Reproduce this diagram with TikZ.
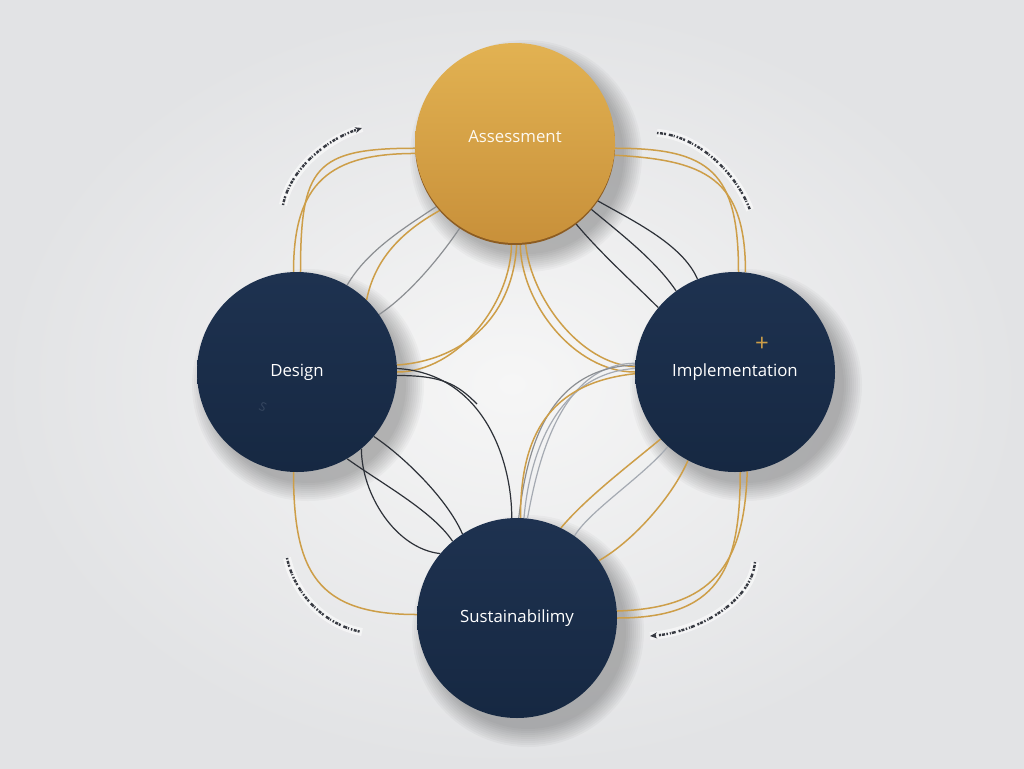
\documentclass[tikz,border=0pt]{standalone}
\usepackage{fontspec}
\setmainfont{Open Sans}
\usetikzlibrary{arrows.meta}
\pgfdeclarelayer{bglayer}
\pgfdeclarelayer{shadowlayer}
\pgfdeclarelayer{wirelayer}
\pgfsetlayers{bglayer,shadowlayer,wirelayer,main}
\definecolor{navytop}{RGB}{30,50,80}
\definecolor{navybot}{RGB}{22,40,66}
\definecolor{goldtop}{RGB}{226,178,82}
\definecolor{goldbot}{RGB}{200,144,58}
\definecolor{goldrim}{RGB}{140,92,34}
\definecolor{wiregold}{RGB}{205,158,72}
\definecolor{wireink}{RGB}{45,49,56}
\definecolor{wiresilver}{RGB}{165,170,178}
\definecolor{bginner}{RGB}{246,246,246}
\definecolor{bgouter}{RGB}{226,227,229}
\definecolor{scriptink}{RGB}{55,58,66}
\tikzset{
  stagecircle/.style={circle, minimum size=200pt, inner sep=0pt, font=\fontsize{16.8}{20}\selectfont},
  goldstage/.style={stagecircle, top color=goldtop, bottom color=goldbot, text=white!92!goldtop},
  navystage/.style={stagecircle, top color=navytop, bottom color=navybot, text=white},
  goldwire/.style={draw=wiregold, line width=1.5pt},
  inkwire/.style={draw=wireink, line width=1.2pt},
  greywire/.style={draw=wireink!55!white, line width=1.2pt},
  silverwire/.style={draw=wiresilver, line width=1.2pt},
  scriptarc/.style={draw=scriptink, line width=2.4pt, dash pattern=on 1.5pt off 1.5pt on 3pt off 1pt on 2pt off 3pt on 4pt off 1pt on 1pt off 2pt},
  halo/.style={draw=white, line width=8pt, opacity=0.55},
  tipstyle/.style={-{Stealth[length=7pt,width=6pt]}},
}
\begin{document}
\begin{tikzpicture}[x=1pt,y=-1pt]
\useasboundingbox (0,0) rectangle (1024,768);
\begin{pgfonlayer}{bglayer}
\shade[inner color=bginner, outer color=bgouter] (0,0) rectangle (1024,768);
\end{pgfonlayer}

% rim under the gold circle
\fill[goldrim] (515,145) circle (100);

\node[goldstage] (A) at (515,143) {\raisebox{14pt}{Assessment}};
\node[navystage] (D) at (297,372) {Design};
\node[navystage] (I) at (735,372) {Implementation};
\node[navystage] (S) at (517,618) {Sustainabilimy};

\node[text=wiregold, font=\fontsize{24}{24}\selectfont] (plus) at (762,344) {+};
\node[text=navytop!80!white, opacity=0.6, rotate=-25, font=\fontsize{12}{12}\selectfont] (faint) at (263,407) {S};

% shadows
\begin{pgfonlayer}{shadowlayer}
\foreach \n in {A,D,I,S}{
  \foreach \r in {98,100,...,116}{
    \fill[black, opacity=0.028] ([shift={(11,13)}]\n.center) circle (\r);
  }
}
\end{pgfonlayer}

\begin{pgfonlayer}{wirelayer}
% Assessment -> Design
\draw[greywire] (A.219) .. controls +(-30,20) and +(20,-35) .. (D.60);
\draw[goldwire] (A.222) .. controls +(-40,22) and +(8,-40) .. (D.46);
\draw[greywire] (A.237) .. controls +(-20,30) and +(30,-20) .. (D.35);
\draw[goldwire] (A.268) .. controls +(0,60) and +(60,0) .. (D.0);
\draw[goldwire] (A.271) .. controls +(-3,70) and +(70,-5) .. (D.4);
% Assessment -> Implementation
\draw[goldwire] (A.273) .. controls +(0,60) and +(-60,0) .. (I.180);
\draw[goldwire] (A.276) .. controls +(5,55) and +(-55,-3) .. (I.177);
\draw[inkwire] (A.307) .. controls +(25,30) and +(-25,-25) .. (I.140);
\draw[inkwire] (A.319) .. controls +(30,25) and +(-20,-30) .. (I.126);
\draw[inkwire] (A.325) .. controls +(35,20) and +(-15,-35) .. (I.112);
% outer loops
\draw[goldwire] (A.183) .. controls +(-100,0) and +(0,-105) .. (D.88);
\draw[goldwire] (A.186) .. controls +(-85,0) and +(0,-90) .. (D.92);
\draw[goldwire] (A.357) .. controls +(95,0) and +(0,-100) .. (I.88);
\draw[goldwire] (A.353) .. controls +(90,5) and +(0,-95) .. (I.84);
\draw[goldwire] (D.268) .. controls +(0,100) and +(-100,0) .. (S.178);
\draw[goldwire] (I.273) .. controls +(0,100) and +(100,0) .. (S.0);
\draw[goldwire] (I.277) .. controls +(-3,95) and +(95,-3) .. (S.4);
% Design -> Sustainability
\draw[inkwire] (D.320) .. controls +(30,20) and +(-15,-35) .. (S.123);
\draw[inkwire] (D.300) .. controls +(35,25) and +(-20,-30) .. (S.130);
\draw[inkwire] (D.310) .. controls +(0,45) and +(-45,-5) .. (S.140);
\coordinate (dfree) at (477,404);
\draw[inkwire] (D.358) .. controls +(45,0) and +(-20,-20) .. (dfree);
\draw[inkwire] (D.2) .. controls +(85,5) and +(0,-60) .. (S.93);
% Implementation -> Sustainability
\draw[silverwire] (I.178) .. controls +(-80,5) and +(5,-60) .. (S.86);
\draw[silverwire] (I.175) .. controls +(-75,0) and +(10,-55) .. (S.84);
\draw[greywire] (I.176) .. controls +(-90,3) and +(8,-65) .. (S.89);
\draw[goldwire] (I.181) .. controls +(-95,10) and +(0,-70) .. (S.88);
\draw[goldwire] (I.222) .. controls +(-30,25) and +(25,-30) .. (S.64);
\draw[goldwire] (I.242) .. controls +(-15,35) and +(35,-20) .. (S.35);
\draw[silverwire] (I.228) .. controls +(-25,30) and +(15,-25) .. (S.55);
\end{pgfonlayer}

% script-like arcs
\coordinate (tla) at (283,205); \coordinate (tlb) at (362,128);
\coordinate (tra) at (657,133); \coordinate (trb) at (750,210);
\coordinate (bla) at (287,558); \coordinate (blb) at (362,632);
\coordinate (bra) at (755,562); \coordinate (brb) at (650,636);
\draw[halo] (tla) .. controls (290,170) and (325,140) .. (tlb);
\draw[halo] (tra) .. controls (695,135) and (735,170) .. (trb);
\draw[halo] (bla) .. controls (295,595) and (325,625) .. (blb);
\draw[halo] (bra) .. controls (752,600) and (700,632) .. (brb);
\draw[scriptarc, tipstyle] (tla) .. controls (290,170) and (325,140) .. (tlb);
\draw[scriptarc] (tra) .. controls (695,135) and (735,170) .. (trb);
\draw[scriptarc] (bla) .. controls (295,595) and (325,625) .. (blb);
\draw[scriptarc, tipstyle] (bra) .. controls (752,600) and (700,632) .. (brb);
\end{tikzpicture}
\end{document}
